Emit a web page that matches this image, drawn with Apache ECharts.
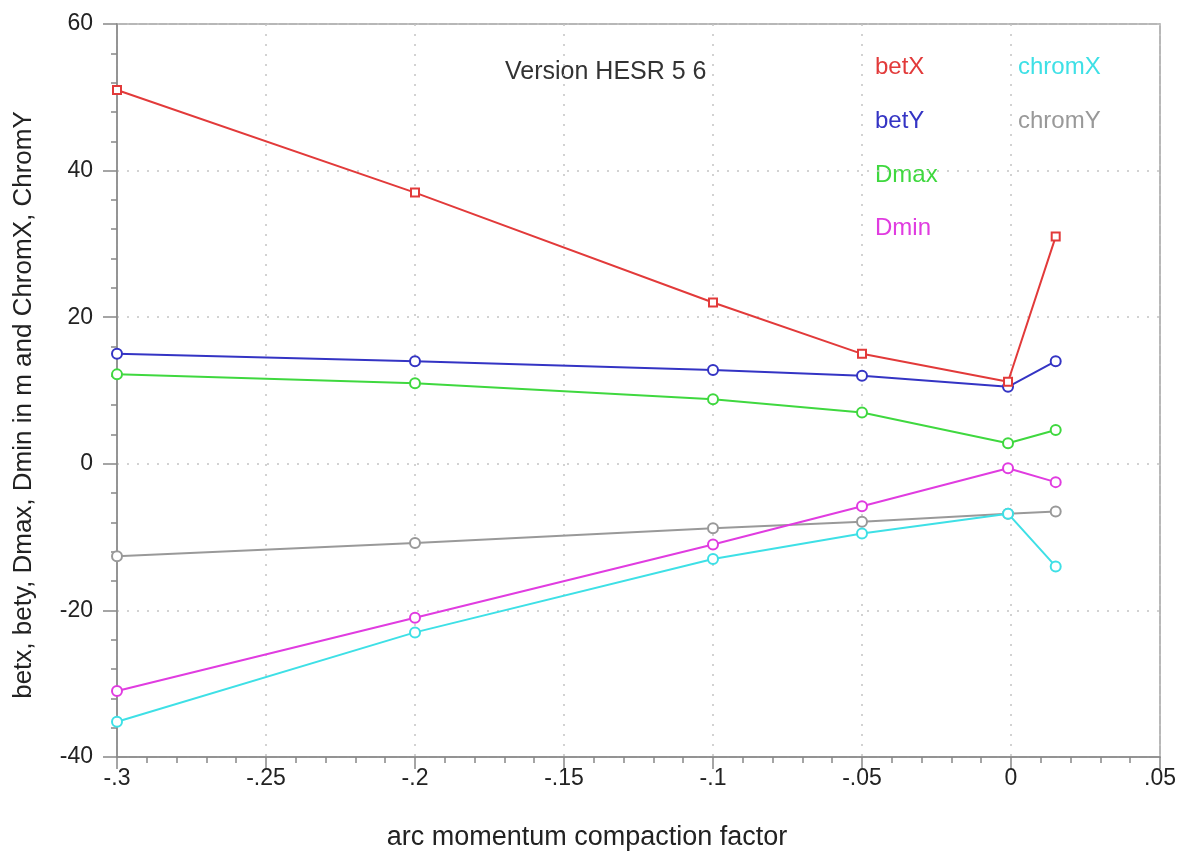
<!DOCTYPE html>
<html>
<head>
<meta charset="utf-8">
<script src="https://cdn.jsdelivr.net/npm/echarts@6/dist/echarts.min.js"></script>
<style>
  html, body { margin: 0; padding: 0; background: #fff; }
  #chart { width: 1195px; height: 858px; }
</style>
</head>
<body>
<div id="chart"></div>
<script>
// Arc momentum compaction factor (x) for each lattice setting
const alphaValues = [-0.3, -0.2, -0.1, -0.05, -0.001, 0.015];

// Beta functions (m), dispersion extremes (m) and chromaticities
const betX   = [51, 37, 22, 15, 11.2, 31];
const betY   = [15, 14, 12.8, 12, 10.5, 14];
const Dmax   = [12.2, 11, 8.8, 7, 2.8, 4.6];
const Dmin   = [-31, -21, -11, -5.8, -0.6, -2.5];
const chromX = [-35.2, -23, -13, -9.5, -6.8, -14];
const chromY = [-12.6, -10.8, -8.8, -7.9, -6.8, -6.5];

const seriesNames = ['betX', 'betY', 'Dmax', 'Dmin', 'chromX', 'chromY'];
const seriesData = [betX, betY, Dmax, Dmin, chromX, chromY];
const seriesColors = ['#e23a3a', '#3434c4', '#3fd83f', '#e03ce0', '#3ee0e6', '#999999'];
const seriesSymbols = ['emptyRect', 'emptyCircle', 'emptyCircle', 'emptyCircle', 'emptyCircle', 'emptyCircle'];

const FONT = 'Liberation Sans';
const TICK_FS = 23;

const chart = echarts.init(document.getElementById('chart'));

function xLabel(v) {
  if (Math.abs(v) < 1e-9) return '0';
  let s = Math.abs(v).toFixed(2).replace(/^0/, '').replace(/0$/, '');
  return (v < 0 ? '-' : '') + s;
}

const series = seriesNames.map((name, i) => ({
  name: name,
  type: 'line',
  data: alphaValues.map((x, k) => [x, seriesData[i][k]]),
  symbol: seriesSymbols[i],
  symbolSize: i === 0 ? 8 : 10,
  lineStyle: { color: seriesColors[i], width: 2 },
  itemStyle: { color: seriesColors[i], borderWidth: 2 },
  z: 10 - i
}));

// Series labels placed inside the plot area
const legendPos = [
  [875, 67], [875, 121], [875, 175], [875, 228], [1018, 67], [1018, 121]
];

const graphics = seriesNames.map((name, i) => ({
  type: 'text',
  x: legendPos[i][0],
  y: legendPos[i][1],
  style: {
    text: name, fill: seriesColors[i], font: '24px "' + FONT + '"',
    textAlign: 'left', textVerticalAlign: 'middle'
  }
}));
graphics.push({
  type: 'text',
  x: 505, y: 72,
  style: {
    text: 'Version HESR 5 6', fill: '#333', font: '25px "' + FONT + '"',
    textAlign: 'left', textVerticalAlign: 'middle'
  }
});
// Axis titles
graphics.push({
  type: 'text',
  x: 587, y: 838,
  style: {
    text: 'arc momentum compaction factor', fill: '#222', font: '27px "' + FONT + '"',
    textAlign: 'center', textVerticalAlign: 'middle'
  }
});
graphics.push({
  type: 'text',
  x: 24, y: 405,
  rotation: Math.PI / 2,
  style: {
    text: 'betx, bety, Dmax, Dmin in m and ChromX, ChromY', fill: '#222', font: '26px "' + FONT + '"',
    textAlign: 'center', textVerticalAlign: 'middle'
  }
});

const option = {
  backgroundColor: '#fff',
  animation: false,
  grid: {
    left: 117, right: 35, top: 24, bottom: 101,
    show: true, borderColor: '#a0a0a0', borderWidth: 1.5, backgroundColor: 'transparent'
  },
  xAxis: {
    type: 'value',
    min: -0.3, max: 0.05, interval: 0.05,
    axisLine: { onZero: false, lineStyle: { color: '#888', width: 1.5 } },
    axisTick: { length: 12, lineStyle: { color: '#888', width: 1.5 } },
    minorTick: { show: true, splitNumber: 5, length: 6, lineStyle: { color: '#888', width: 1.5 } },
    axisLabel: { formatter: xLabel, fontFamily: FONT, fontSize: TICK_FS, color: '#222', margin: 10 },
    splitLine: { show: true, lineStyle: { color: '#c4c4c4', type: [2, 8], width: 1.5 } }
  },
  yAxis: {
    type: 'value',
    min: -40, max: 60, interval: 20,
    axisLine: { onZero: false, lineStyle: { color: '#888', width: 1.5 } },
    axisTick: { length: 14, lineStyle: { color: '#888', width: 1.5 } },
    minorTick: { show: true, splitNumber: 5, length: 6, lineStyle: { color: '#888', width: 1.5 } },
    axisLabel: { fontFamily: FONT, fontSize: TICK_FS, color: '#222', margin: 24 },
    splitLine: { show: true, lineStyle: { color: '#c4c4c4', type: [2, 8], width: 1.5 } }
  },
  graphic: graphics,
  series: series
};

chart.setOption(option);
</script>
</body>
</html>
